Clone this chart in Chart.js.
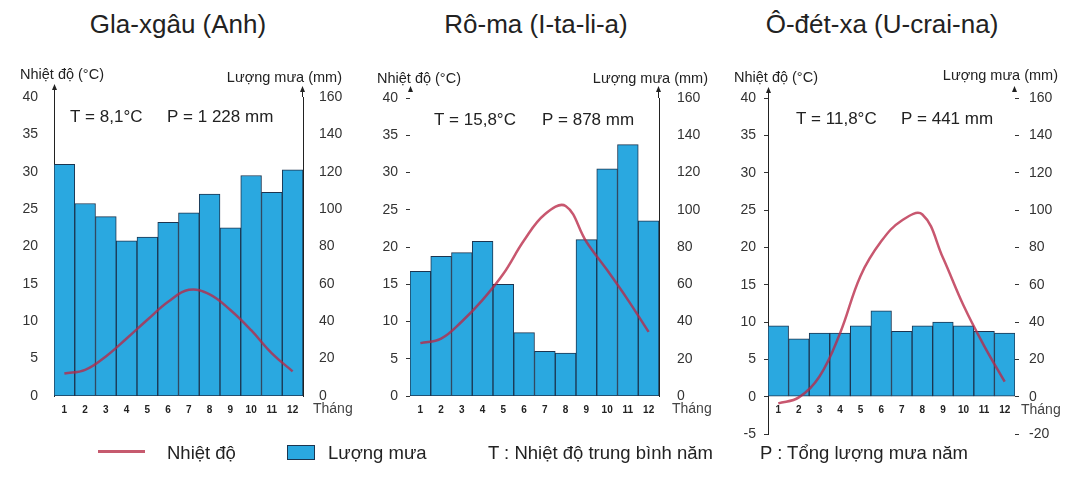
<!DOCTYPE html>
<html lang="vi">
<head>
<meta charset="utf-8">
<title>Biểu đồ nhiệt độ và lượng mưa</title>
<script src="https://cdn.jsdelivr.net/npm/chart.js@4.4.1/dist/chart.umd.min.js"></script>
<style>
  body { margin: 0; background: #fff; width: 1076px; height: 489px; overflow: hidden; position: relative; font-family: "Liberation Sans", Arial, sans-serif; color: #222; }
  canvas { position: absolute; top: 0; }
  .title { position: absolute; top: 9px; font-size: 26px; transform: translateX(-50%); white-space: nowrap; }
  .leg { position: absolute; top: 442px; font-size: 18.5px; white-space: nowrap; }
</style>
</head>
<body>
<div class="title" style="left:178px">Gla-xgâu (Anh)</div>
<div class="title" style="left:536px">Rô-ma (I-ta-li-a)</div>
<div class="title" style="left:882px">Ô-đét-xa (U-crai-na)</div>

<canvas id="c1" width="356" height="489" style="left:0"></canvas>
<canvas id="c2" width="356" height="489" style="left:356px"></canvas>
<canvas id="c3" width="364" height="489" style="left:712px"></canvas>

<div style="position:absolute;left:98px;top:450px;width:47px;height:3px;background:#c65a6e"></div>
<div class="leg" style="left:167px">Nhiệt độ</div>
<div style="position:absolute;left:287px;top:445px;width:26px;height:13px;background:#2aa8e0;border:1px solid #1c3550"></div>
<div class="leg" style="left:328px">Lượng mưa</div>
<div class="leg" style="left:488px">T : Nhiệt độ trung bình năm</div>
<div class="leg" style="left:760px">P : Tổng lượng mưa năm</div>

<script>
const FONT = '"Liberation Sans", Arial, sans-serif'

// tháng
const months = ['1', '2', '3', '4', '5', '6', '7', '8', '9', '10', '11', '12']

// Gla-xgâu
const glasgowRain = [124, 103, 96, 83, 85, 93, 98, 108, 90, 118, 109, 121]
const glasgowTemp = [3.0, 3.5, 5.3, 7.7, 10.2, 12.6, 14.2, 13.6, 11.5, 8.8, 5.7, 3.3]

// Rô-ma
const romeRain = [67, 75, 77, 83, 60, 34, 24, 23, 84, 122, 135, 94]
const romeTemp = [7.1, 7.7, 10.0, 12.9, 16.4, 20.9, 24.4, 25.5, 20.7, 16.9, 12.9, 8.6]

// Ô-đét-xa
const odessaRain = [38, 31, 34, 34, 38, 46, 35, 38, 40, 38, 35, 34]
const odessaTemp = [-0.9, -0.1, 2.7, 8.5, 16.2, 20.8, 23.6, 24.4, 18.6, 12.2, 6.8, 2.0]

// tick labels
const tempTicks = [0, 5, 10, 15, 20, 25, 30, 35, 40]
const rainTicks = [0, 20, 40, 60, 80, 100, 120, 140, 160]
const tempTicksNeg = [-5, 0, 5, 10, 15, 20, 25, 30, 35, 40]
const rainTicksNeg = [-20, 0, 20, 40, 60, 80, 100, 120, 140, 160]

// vẽ chữ, mũi tên trục
const decor = {
  id: 'decor',
  afterDraw(chart, args, o) {
    const { ctx, chartArea: a, scales } = chart
    const y0 = scales.yL.getPixelForValue(0)
    ctx.save()
    ctx.fillStyle = '#222'
    ctx.textBaseline = 'middle'
    ctx.textAlign = 'left'
    ctx.font = '17px ' + FONT
    ctx.fillText(o.tText, o.tX, o.textY)
    ctx.fillText(o.pText, o.pX, o.textY)
    ctx.font = '14.5px ' + FONT
    ctx.fillText('Nhiệt độ (°C)', o.leftTitleX, o.leftTitleY)
    ctx.textAlign = 'right'
    ctx.fillText('Lượng mưa (mm)', o.rightTitleX, o.rightTitleY)
    ctx.textAlign = 'left'
    ctx.font = '14px ' + FONT
    ctx.fillStyle = '#444'
    ctx.fillText('Tháng', a.right + o.thangDx, y0 + 13)

    function arrow(x, tipY, withLine) {
      ctx.strokeStyle = '#222'
      ctx.fillStyle = '#222'
      ctx.lineWidth = 1
      if (withLine) {
        ctx.beginPath()
        ctx.moveTo(x, a.top)
        ctx.lineTo(x, tipY + 3)
        ctx.stroke()
      }
      ctx.beginPath()
      ctx.moveTo(x, tipY)
      ctx.lineTo(x - 2.5, tipY + 6)
      ctx.lineTo(x + 2.5, tipY + 6)
      ctx.closePath()
      ctx.fill()
    }
    arrow(Math.round(a.left) + 0.5, o.leftArrowY, o.leftLine)
    arrow(Math.round(a.right) - 0.5, o.rightArrowY, o.rightLine)
    ctx.restore()
  }
}

function makeChart(id, rain, temp, s) {
  const ctx = document.getElementById(id).getContext('2d')
  return new Chart(ctx, {
    type: 'bar',
    data: {
      labels: months,
      datasets: [
        {
          type: 'line',
          label: 'Nhiệt độ',
          data: temp,
          yAxisID: 'yL',
          borderColor: 'rgba(185, 40, 70, 0.78)',
          borderWidth: 2.5,
          pointRadius: 0,
          tension: 0.4,
          order: 1,
        },
        {
          label: 'Lượng mưa',
          data: rain,
          yAxisID: 'yR',
          backgroundColor: '#2aa8e0',
          borderColor: '#1c3550',
          borderWidth: 1,
          borderSkipped: false,
          barPercentage: 1,
          categoryPercentage: 1,
          order: 2,
        },
      ],
    },
    options: {
      responsive: false,
      animation: false,
      layout: { padding: { left: 0, right: 0, top: s.top, bottom: s.bottom } },
      plugins: {
        legend: { display: false },
        tooltip: { enabled: false },
        decor: s,
      },
      scales: {
        x: {
          position: { yL: 0 },
          grid: { display: false, drawTicks: false },
          border: { display: false },
          ticks: { padding: 8, color: '#222', font: { family: FONT, size: 10, weight: 'bold' } },
        },
        yL: {
          position: 'left',
          min: s.tempTicks[0],
          max: 40,
          afterFit: (sc) => { sc.width = s.leftW },
          afterBuildTicks: (sc) => { sc.ticks = s.tempTicks.map((v) => ({ value: v })) },
          grid: { display: s.leftTicks, drawOnChartArea: false, drawTicks: true, tickLength: 4, color: '#333' },
          border: { display: s.leftLine, color: '#222', width: 1 },
          ticks: { padding: s.leftTicks ? 8 : 12, color: '#333', font: { family: FONT, size: 14 } },
        },
        yR: {
          position: 'right',
          min: s.rainTicks[0],
          max: 160,
          afterFit: (sc) => { sc.width = s.rightW },
          afterBuildTicks: (sc) => { sc.ticks = s.rainTicks.map((v) => ({ value: v })) },
          grid: { display: s.rightTicks, drawOnChartArea: false, drawTicks: true, tickLength: 4, color: '#333' },
          border: { display: s.rightLine, color: '#222', width: 1 },
          ticks: { padding: s.rightTicks ? 10 : s.rightPad, color: '#333', font: { family: FONT, size: 14 } },
        },
      },
    },
    plugins: [decor],
  })
}

window.onload = function () {
  makeChart('c1', glasgowRain, glasgowTemp, {
    top: 97, bottom: 93, leftW: 54, rightW: 53,
    tempTicks: tempTicks, rainTicks: rainTicks,
    leftTicks: false, rightTicks: false, leftLine: true, rightLine: true, rightPad: 12,
    tText: 'T = 8,1°C', pText: 'P = 1 228 mm', tX: 70, pX: 167, textY: 117,
    leftTitleX: 20, leftTitleY: 75, rightTitleX: 342, rightTitleY: 78,
    leftArrowY: 84, rightArrowY: 86, thangDx: 10,
  })
  makeChart('c2', romeRain, romeTemp, {
    top: 98, bottom: 93, leftW: 54, rightW: 53,
    tempTicks: tempTicks, rainTicks: rainTicks,
    leftTicks: true, rightTicks: false, leftLine: false, rightLine: true, rightPad: 14,
    tText: 'T = 15,8°C', pText: 'P = 878 mm', tX: 78, pX: 186, textY: 120,
    leftTitleX: 21, leftTitleY: 79, rightTitleX: 352, rightTitleY: 79,
    leftArrowY: 86, rightArrowY: 86, thangDx: 13,
  })
  makeChart('c3', odessaRain, odessaTemp, {
    top: 98, bottom: 55, leftW: 56, rightW: 61,
    tempTicks: tempTicksNeg, rainTicks: rainTicksNeg,
    leftTicks: true, rightTicks: true, leftLine: true, rightLine: false, rightPad: 14,
    tText: 'T = 11,8°C', pText: 'P = 441 mm', tX: 84, pX: 189, textY: 119,
    leftTitleX: 22, leftTitleY: 78, rightTitleX: 346, rightTitleY: 76,
    leftArrowY: 87, rightArrowY: 86, thangDx: 6,
  })
}
</script>
</body>
</html>
